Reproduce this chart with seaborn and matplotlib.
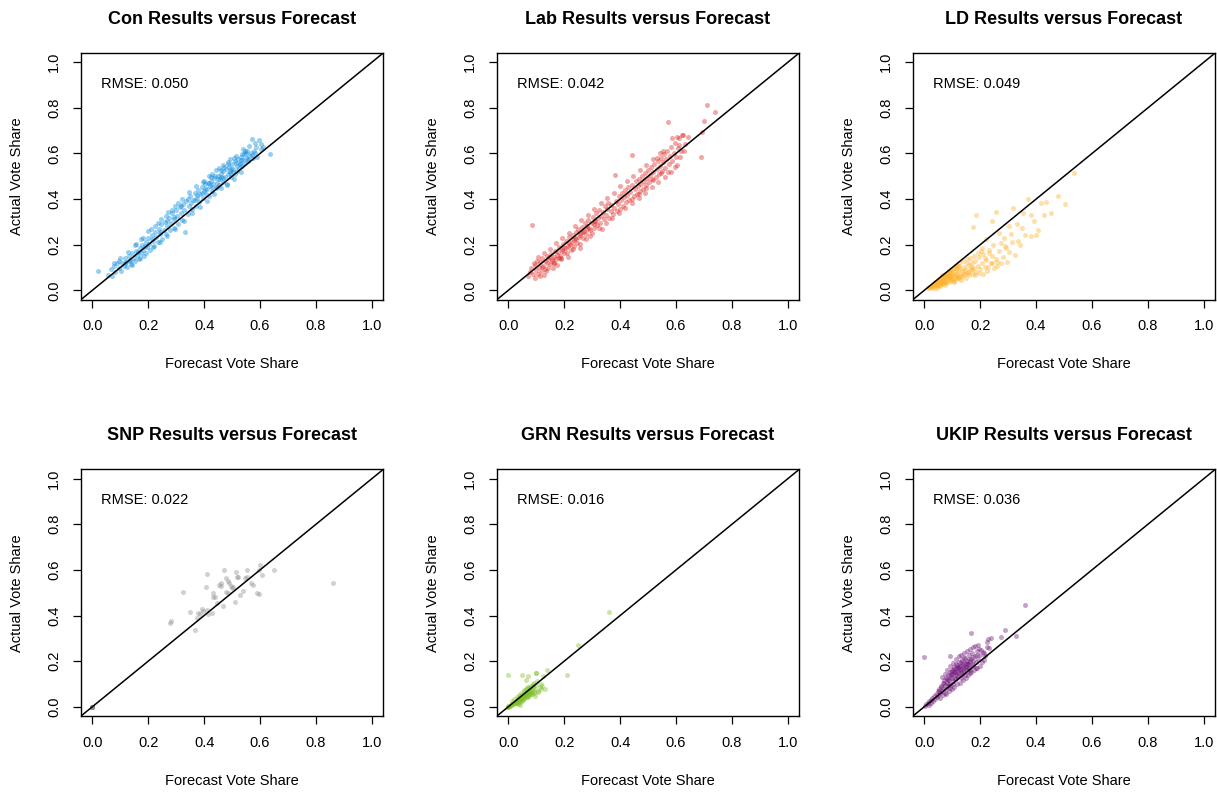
import matplotlib
matplotlib.use("Agg")
import matplotlib.pyplot as plt
import seaborn as sns

# Forecast vs actual vote share per constituency
con_forecast = [
    0.022, 0.058, 0.066, 0.072, 0.078, 0.083, 0.088, 0.094, 0.097, 0.103,
    0.106, 0.112, 0.117, 0.121, 0.126, 0.131, 0.134, 0.139, 0.143, 0.148,
    0.152, 0.157, 0.161, 0.166, 0.171, 0.174, 0.178, 0.183, 0.186, 0.191,
    0.195, 0.199, 0.204, 0.208, 0.212, 0.217, 0.221, 0.226, 0.229, 0.234,
    0.238, 0.243, 0.247, 0.251, 0.256, 0.261, 0.264, 0.269, 0.273, 0.278,
    0.282, 0.286, 0.291, 0.294, 0.299, 0.303, 0.308, 0.312, 0.316, 0.321,
    0.325, 0.329, 0.332, 0.337, 0.341, 0.346, 0.349, 0.353, 0.358, 0.362,
    0.366, 0.371, 0.374, 0.379, 0.383, 0.387, 0.391, 0.396, 0.399, 0.404,
    0.408, 0.412, 0.416, 0.421, 0.424, 0.429, 0.433, 0.437, 0.441, 0.445,
    0.449, 0.453, 0.457, 0.462, 0.466, 0.469, 0.474, 0.478, 0.482, 0.486,
    0.489, 0.493, 0.497, 0.501, 0.505, 0.509, 0.512, 0.516, 0.521, 0.524,
    0.528, 0.532, 0.536, 0.539, 0.543, 0.547, 0.551, 0.554, 0.558, 0.562,
    0.566, 0.571, 0.575, 0.579, 0.584, 0.589, 0.595, 0.603, 0.612, 0.636,
    0.118, 0.136, 0.163, 0.188, 0.214, 0.241, 0.267, 0.293, 0.318, 0.343,
    0.368, 0.392, 0.415, 0.438, 0.461, 0.484, 0.507, 0.529, 0.548, 0.571,
    0.376, 0.402, 0.427, 0.451, 0.472, 0.495, 0.518, 0.537, 0.556, 0.582,
    0.423, 0.447, 0.467, 0.491, 0.513, 0.533, 0.419, 0.459, 0.503, 0.545,
    0.152, 0.176, 0.198, 0.223, 0.246, 0.272, 0.297, 0.322, 0.345, 0.371,
    0.395, 0.418, 0.443, 0.468, 0.492, 0.515, 0.538, 0.561, 0.583, 0.604,
    0.143, 0.169, 0.194, 0.219, 0.244, 0.269, 0.296, 0.327, 0.355, 0.384,
    0.411, 0.436, 0.459, 0.483, 0.506, 0.531, 0.487, 0.455, 0.427, 0.398,
    0.305, 0.284, 0.262, 0.236, 0.209, 0.183, 0.158, 0.128, 0.101, 0.079,
]
con_actual = [
    0.083, 0.068, 0.092, 0.061, 0.107, 0.082, 0.118, 0.098, 0.131, 0.087,
    0.121, 0.108, 0.143, 0.126, 0.101, 0.152, 0.133, 0.117, 0.164, 0.141,
    0.128, 0.172, 0.153, 0.139, 0.186, 0.162, 0.201, 0.177, 0.149, 0.213,
    0.189, 0.231, 0.205, 0.176, 0.242, 0.218, 0.196, 0.257, 0.232, 0.211,
    0.271, 0.246, 0.289, 0.227, 0.263, 0.301, 0.248, 0.282, 0.318, 0.266,
    0.296, 0.338, 0.275, 0.312, 0.352, 0.327, 0.291, 0.364, 0.341, 0.309,
    0.378, 0.352, 0.258, 0.391, 0.334, 0.369, 0.412, 0.383, 0.356, 0.397,
    0.428, 0.372, 0.406, 0.441, 0.389, 0.421, 0.452, 0.403, 0.437, 0.468,
    0.424, 0.446, 0.412, 0.459, 0.481, 0.437, 0.466, 0.491, 0.448, 0.472,
    0.503, 0.462, 0.487, 0.511, 0.476, 0.523, 0.495, 0.531, 0.468, 0.509,
    0.541, 0.522, 0.497, 0.553, 0.531, 0.566, 0.512, 0.547, 0.574, 0.536,
    0.558, 0.583, 0.544, 0.571, 0.596, 0.559, 0.582, 0.611, 0.568, 0.591,
    0.603, 0.662, 0.578, 0.612, 0.627, 0.585, 0.661, 0.621, 0.628, 0.599,
    0.118, 0.129, 0.168, 0.196, 0.227, 0.258, 0.305, 0.321, 0.372, 0.401,
    0.395, 0.428, 0.471, 0.503, 0.498, 0.553, 0.578, 0.552, 0.604, 0.594,
    0.417, 0.443, 0.452, 0.488, 0.539, 0.531, 0.522, 0.598, 0.577, 0.604,
    0.496, 0.455, 0.493, 0.515, 0.559, 0.571, 0.472, 0.528, 0.519, 0.613,
    0.198, 0.224, 0.262, 0.281, 0.312, 0.343, 0.372, 0.401, 0.432, 0.458,
    0.474, 0.502, 0.526, 0.548, 0.574, 0.591, 0.621, 0.634, 0.648, 0.641,
    0.112, 0.141, 0.163, 0.192, 0.214, 0.239, 0.268, 0.302, 0.339, 0.365,
    0.393, 0.421, 0.449, 0.462, 0.486, 0.521, 0.564, 0.537, 0.509, 0.481,
    0.381, 0.352, 0.324, 0.296, 0.268, 0.231, 0.203, 0.168, 0.142, 0.121,
]

lab_forecast = [
    0.072, 0.081, 0.086, 0.089, 0.094, 0.097, 0.101, 0.104, 0.108, 0.111,
    0.115, 0.118, 0.122, 0.126, 0.129, 0.133, 0.137, 0.141, 0.144, 0.148,
    0.152, 0.156, 0.159, 0.163, 0.167, 0.171, 0.175, 0.178, 0.182, 0.186,
    0.189, 0.193, 0.197, 0.201, 0.205, 0.208, 0.212, 0.216, 0.219, 0.223,
    0.227, 0.231, 0.234, 0.238, 0.242, 0.246, 0.249, 0.253, 0.257, 0.261,
    0.264, 0.268, 0.272, 0.276, 0.279, 0.283, 0.287, 0.291, 0.294, 0.298,
    0.302, 0.306, 0.309, 0.313, 0.317, 0.321, 0.324, 0.328, 0.332, 0.336,
    0.339, 0.343, 0.347, 0.351, 0.354, 0.358, 0.362, 0.366, 0.369, 0.373,
    0.377, 0.381, 0.384, 0.388, 0.392, 0.396, 0.399, 0.403, 0.407, 0.411,
    0.414, 0.418, 0.422, 0.426, 0.429, 0.433, 0.437, 0.441, 0.444, 0.448,
    0.452, 0.456, 0.459, 0.463, 0.467, 0.471, 0.474, 0.478, 0.482, 0.486,
    0.489, 0.493, 0.497, 0.501, 0.504, 0.508, 0.512, 0.516, 0.519, 0.523,
    0.527, 0.531, 0.534, 0.538, 0.542, 0.546, 0.549, 0.553, 0.557, 0.561,
    0.564, 0.568, 0.572, 0.575, 0.579, 0.583, 0.587, 0.591, 0.596, 0.601,
    0.606, 0.611, 0.617, 0.623, 0.631, 0.642, 0.688, 0.694, 0.701, 0.712,
    0.739, 0.586, 0.603, 0.612, 0.625, 0.547, 0.513, 0.493, 0.468, 0.441,
    0.121, 0.139, 0.157, 0.174, 0.191, 0.214, 0.236, 0.258, 0.281, 0.305,
    0.131, 0.146, 0.165, 0.181, 0.199, 0.221, 0.244, 0.266, 0.289, 0.311,
    0.108, 0.127, 0.149, 0.172, 0.194, 0.217, 0.239, 0.262, 0.285, 0.308,
    0.331, 0.354, 0.377, 0.401, 0.424, 0.447, 0.471, 0.494, 0.518, 0.541,
    0.164, 0.187, 0.209, 0.232, 0.255, 0.277, 0.301, 0.326, 0.348, 0.372,
    0.395, 0.419, 0.443, 0.466, 0.489, 0.513, 0.536, 0.559, 0.582, 0.605,
    0.079, 0.093, 0.112, 0.134, 0.615, 0.628, 0.596, 0.571, 0.552, 0.531,
]
lab_actual = [
    0.062, 0.098, 0.286, 0.074, 0.112, 0.053, 0.089, 0.131, 0.071, 0.104,
    0.123, 0.086, 0.141, 0.109, 0.068, 0.127, 0.152, 0.098, 0.138, 0.117,
    0.161, 0.129, 0.096, 0.148, 0.174, 0.137, 0.112, 0.169, 0.191, 0.152,
    0.136, 0.182, 0.203, 0.164, 0.218, 0.188, 0.147, 0.206, 0.232, 0.179,
    0.211, 0.243, 0.196, 0.228, 0.257, 0.209, 0.271, 0.236, 0.188, 0.252,
    0.278, 0.231, 0.262, 0.294, 0.246, 0.281, 0.309, 0.263, 0.238, 0.297,
    0.322, 0.274, 0.306, 0.339, 0.288, 0.318, 0.351, 0.296, 0.327, 0.267,
    0.342, 0.311, 0.368, 0.329, 0.356, 0.383, 0.318, 0.349, 0.376, 0.334,
    0.362, 0.507, 0.393, 0.348, 0.379, 0.412, 0.356, 0.398, 0.427, 0.371,
    0.409, 0.438, 0.386, 0.419, 0.452, 0.397, 0.431, 0.592, 0.462, 0.414,
    0.443, 0.478, 0.421, 0.456, 0.489, 0.437, 0.468, 0.502, 0.446, 0.481,
    0.513, 0.461, 0.492, 0.527, 0.474, 0.506, 0.541, 0.483, 0.518, 0.553,
    0.497, 0.532, 0.566, 0.511, 0.547, 0.579, 0.524, 0.561, 0.596, 0.538,
    0.574, 0.612, 0.738, 0.553, 0.589, 0.629, 0.567, 0.604, 0.648, 0.586,
    0.624, 0.667, 0.609, 0.683, 0.641, 0.672, 0.585, 0.692, 0.741, 0.813,
    0.781, 0.668, 0.672, 0.635, 0.682, 0.513, 0.487, 0.449, 0.421, 0.399,
    0.102, 0.119, 0.138, 0.157, 0.171, 0.194, 0.219, 0.243, 0.268, 0.291,
    0.092, 0.146, 0.121, 0.143, 0.186, 0.197, 0.226, 0.254, 0.275, 0.303,
    0.148, 0.162, 0.182, 0.208, 0.231, 0.253, 0.281, 0.307, 0.331, 0.356,
    0.381, 0.403, 0.429, 0.456, 0.478, 0.503, 0.529, 0.551, 0.577, 0.603,
    0.119, 0.141, 0.162, 0.181, 0.203, 0.226, 0.251, 0.272, 0.296, 0.318,
    0.339, 0.362, 0.382, 0.406, 0.427, 0.451, 0.476, 0.498, 0.521, 0.548,
    0.081, 0.118, 0.062, 0.084, 0.583, 0.611, 0.541, 0.521, 0.612, 0.581,
]

ld_forecast = [
    0.012, 0.018, 0.022, 0.026, 0.029, 0.033, 0.036, 0.039, 0.042, 0.045,
    0.048, 0.051, 0.054, 0.057, 0.059, 0.062, 0.065, 0.068, 0.071, 0.073,
    0.076, 0.079, 0.082, 0.085, 0.087, 0.091, 0.094, 0.097, 0.099, 0.103,
    0.106, 0.109, 0.112, 0.115, 0.118, 0.121, 0.124, 0.127, 0.131, 0.134,
    0.137, 0.141, 0.144, 0.148, 0.151, 0.155, 0.159, 0.162, 0.166, 0.171,
    0.174, 0.178, 0.183, 0.187, 0.191, 0.196, 0.201, 0.205, 0.211, 0.216,
    0.221, 0.226, 0.232, 0.238, 0.244, 0.251, 0.258, 0.266, 0.273, 0.281,
    0.289, 0.297, 0.305, 0.314, 0.323, 0.187, 0.173, 0.221, 0.241, 0.256,
    0.268, 0.285, 0.302, 0.318, 0.331, 0.348, 0.352, 0.362, 0.371, 0.381,
    0.392, 0.399, 0.416, 0.428, 0.437, 0.455, 0.478, 0.505, 0.537, 0.381,
    0.336, 0.311, 0.294, 0.276, 0.246, 0.231, 0.208, 0.262, 0.342, 0.408,
    0.031, 0.044, 0.053, 0.061, 0.069, 0.077, 0.084, 0.092, 0.101, 0.114,
    0.037, 0.049, 0.058, 0.066, 0.074, 0.081, 0.089, 0.096, 0.108, 0.119,
    0.064, 0.072, 0.086, 0.095, 0.104, 0.117, 0.129, 0.142, 0.153, 0.168,
    0.052, 0.063, 0.075, 0.088, 0.101, 0.113, 0.126, 0.139, 0.152, 0.165,
    0.178, 0.192, 0.204, 0.218, 0.183, 0.196, 0.212, 0.228, 0.243, 0.259,
    0.025, 0.034, 0.041, 0.047, 0.056, 0.067, 0.079, 0.091, 0.105, 0.121,
    0.133, 0.146, 0.158, 0.171, 0.126, 0.114, 0.098, 0.083, 0.071, 0.059,
]
ld_actual = [
    0.011, 0.016, 0.009, 0.021, 0.014, 0.027, 0.018, 0.031, 0.022, 0.012,
    0.036, 0.025, 0.041, 0.019, 0.032, 0.047, 0.028, 0.038, 0.054, 0.022,
    0.043, 0.031, 0.061, 0.048, 0.036, 0.057, 0.069, 0.042, 0.052, 0.074,
    0.038, 0.061, 0.083, 0.049, 0.067, 0.091, 0.056, 0.074, 0.044, 0.086,
    0.062, 0.101, 0.071, 0.053, 0.094, 0.078, 0.112, 0.066, 0.089, 0.121,
    0.074, 0.098, 0.131, 0.082, 0.108, 0.146, 0.093, 0.119, 0.161, 0.103,
    0.133, 0.087, 0.178, 0.121, 0.152, 0.096, 0.139, 0.171, 0.118, 0.147,
    0.193, 0.126, 0.168, 0.211, 0.154, 0.331, 0.277, 0.225, 0.306, 0.345,
    0.251, 0.228, 0.281, 0.361, 0.292, 0.272, 0.338, 0.243, 0.401, 0.331,
    0.302, 0.241, 0.381, 0.331, 0.388, 0.341, 0.415, 0.378, 0.514, 0.239,
    0.216, 0.248, 0.185, 0.208, 0.198, 0.162, 0.184, 0.109, 0.197, 0.263,
    0.024, 0.029, 0.031, 0.037, 0.045, 0.052, 0.058, 0.064, 0.061, 0.072,
    0.035, 0.045, 0.051, 0.056, 0.063, 0.071, 0.081, 0.088, 0.097, 0.108,
    0.066, 0.035, 0.075, 0.079, 0.052, 0.058, 0.097, 0.084, 0.118, 0.103,
    0.052, 0.061, 0.073, 0.085, 0.094, 0.107, 0.119, 0.128, 0.138, 0.142,
    0.151, 0.162, 0.171, 0.141, 0.066, 0.078, 0.072, 0.102, 0.118, 0.126,
    0.019, 0.012, 0.026, 0.018, 0.023, 0.031, 0.039, 0.048, 0.041, 0.053,
    0.063, 0.072, 0.081, 0.092, 0.108, 0.096, 0.078, 0.068, 0.057, 0.042,
]

snp_forecast = [
    0.0, 0.0, 0.0, 0.0, 0.0, 0.0, 0.0, 0.0,
    0.277, 0.283, 0.324, 0.349, 0.367, 0.373, 0.379, 0.385, 0.391, 0.397,
    0.409, 0.415, 0.427, 0.406, 0.412, 0.432, 0.438, 0.430, 0.447, 0.454,
    0.462, 0.459, 0.468, 0.472, 0.477, 0.484, 0.490, 0.495, 0.480, 0.487,
    0.498, 0.504, 0.510, 0.514, 0.516, 0.520, 0.528, 0.538, 0.546, 0.552,
    0.554, 0.568, 0.576, 0.588, 0.596, 0.597, 0.600, 0.606, 0.651, 0.860,
]
snp_actual = [
    0.0, 0.0, 0.0, 0.0, 0.0, 0.0, 0.0, 0.0,
    0.367, 0.377, 0.504, 0.415, 0.338, 0.389, 0.410, 0.408, 0.428, 0.418,
    0.425, 0.408, 0.410, 0.527, 0.582, 0.498, 0.483, 0.480, 0.454, 0.534,
    0.544, 0.530, 0.444, 0.600, 0.563, 0.553, 0.541, 0.530, 0.505, 0.498,
    0.520, 0.524, 0.461, 0.592, 0.568, 0.568, 0.491, 0.508, 0.563, 0.571,
    0.600, 0.541, 0.534, 0.501, 0.493, 0.600, 0.622, 0.578, 0.600, 0.544,
]

grn_forecast = [
    0.000, 0.005, 0.009, 0.012, 0.015, 0.018, 0.021, 0.024, 0.027, 0.030,
    0.032, 0.035, 0.037, 0.040, 0.042, 0.044, 0.047, 0.049, 0.051, 0.054,
    0.056, 0.058, 0.061, 0.063, 0.066, 0.068, 0.071, 0.074, 0.077, 0.081,
    0.084, 0.088, 0.092, 0.096, 0.101, 0.106, 0.112, 0.119, 0.125, 0.131,
    0.137, 0.099, 0.101, 0.071, 0.048, 0.000, 0.211, 0.250, 0.361, 0.095,
    0.042, 0.025, 0.038, 0.046, 0.052, 0.059, 0.064, 0.069, 0.078, 0.086,
    0.033, 0.043, 0.053, 0.061, 0.072, 0.083, 0.091, 0.104, 0.116, 0.062,
    0.028, 0.036, 0.045, 0.055, 0.065, 0.075, 0.057, 0.067, 0.079, 0.089,
    0.015, 0.022, 0.031, 0.039, 0.047, 0.055, 0.063, 0.071, 0.079, 0.087,
    0.034, 0.041, 0.051, 0.058, 0.066, 0.073, 0.081, 0.093, 0.108, 0.122,
    0.000, 0.000, 0.000, 0.004, 0.007,
]
grn_actual = [
    0.002, 0.004, 0.011, 0.006, 0.014, 0.019, 0.012, 0.022, 0.017, 0.027,
    0.031, 0.023, 0.038, 0.028, 0.045, 0.034, 0.041, 0.052, 0.029, 0.046,
    0.038, 0.057, 0.049, 0.064, 0.043, 0.055, 0.068, 0.051, 0.061, 0.074,
    0.057, 0.083, 0.066, 0.078, 0.094, 0.071, 0.086, 0.076, 0.134, 0.076,
    0.163, 0.148, 0.149, 0.134, 0.141, 0.141, 0.141, 0.269, 0.417, 0.046,
    0.006, 0.018, 0.024, 0.032, 0.037, 0.046, 0.052, 0.059, 0.069, 0.067,
    0.019, 0.039, 0.041, 0.056, 0.063, 0.092, 0.104, 0.112, 0.098, 0.118,
    0.021, 0.033, 0.047, 0.058, 0.061, 0.067, 0.073, 0.081, 0.088, 0.101,
    0.025, 0.033, 0.042, 0.051, 0.061, 0.071, 0.078, 0.086, 0.082, 0.093,
    0.011, 0.021, 0.026, 0.035, 0.041, 0.046, 0.055, 0.061, 0.064, 0.092,
    0.000, 0.000, 0.000, 0.003, 0.005,
]

ukip_forecast = [
    0.003, 0.008, 0.012, 0.016, 0.019, 0.023, 0.026, 0.029, 0.033, 0.036,
    0.039, 0.042, 0.045, 0.048, 0.051, 0.054, 0.057, 0.060, 0.063, 0.066,
    0.068, 0.071, 0.074, 0.077, 0.079, 0.082, 0.085, 0.088, 0.091, 0.093,
    0.096, 0.099, 0.102, 0.104, 0.107, 0.110, 0.113, 0.115, 0.118, 0.121,
    0.124, 0.126, 0.129, 0.132, 0.135, 0.138, 0.141, 0.144, 0.147, 0.150,
    0.153, 0.156, 0.159, 0.162, 0.165, 0.169, 0.172, 0.176, 0.180, 0.184,
    0.188, 0.192, 0.196, 0.201, 0.206, 0.211, 0.217, 0.225, 0.232, 0.240,
    0.228, 0.276, 0.290, 0.329, 0.361, 0.169, 0.092, 0.000, 0.213, 0.186,
    0.085, 0.095, 0.105, 0.115, 0.125, 0.135, 0.145, 0.155, 0.165, 0.175,
    0.090, 0.101, 0.111, 0.121, 0.131, 0.140, 0.150, 0.160, 0.170, 0.190,
    0.108, 0.119, 0.128, 0.137, 0.143, 0.152, 0.161, 0.174, 0.058, 0.066,
    0.076, 0.084, 0.094, 0.103, 0.112, 0.122, 0.133, 0.146, 0.154, 0.163,
    0.064, 0.074, 0.083, 0.093, 0.103, 0.113, 0.123, 0.133, 0.143, 0.153,
    0.163, 0.173, 0.183, 0.193, 0.203, 0.213, 0.223, 0.198, 0.178, 0.158,
    0.138, 0.118, 0.098, 0.078, 0.088, 0.108, 0.128, 0.148, 0.168, 0.188,
    0.052, 0.061, 0.071, 0.081, 0.091, 0.101, 0.111, 0.121, 0.131, 0.141,
]
ukip_actual = [
    0.004, 0.011, 0.018, 0.009, 0.024, 0.031, 0.016, 0.038, 0.027, 0.046,
    0.034, 0.057, 0.043, 0.068, 0.051, 0.079, 0.062, 0.091, 0.071, 0.104,
    0.083, 0.117, 0.094, 0.128, 0.077, 0.106, 0.139, 0.118, 0.151, 0.097,
    0.131, 0.163, 0.112, 0.144, 0.176, 0.124, 0.158, 0.189, 0.137, 0.169,
    0.196, 0.148, 0.181, 0.128, 0.204, 0.163, 0.192, 0.152, 0.213, 0.176,
    0.201, 0.168, 0.226, 0.187, 0.148, 0.211, 0.236, 0.179, 0.221, 0.197,
    0.243, 0.211, 0.253, 0.228, 0.196, 0.241, 0.224, 0.282, 0.258, 0.301,
    0.297, 0.306, 0.338, 0.311, 0.445, 0.323, 0.221, 0.218, 0.206, 0.171,
    0.118, 0.146, 0.152, 0.171, 0.173, 0.186, 0.174, 0.189, 0.203, 0.219,
    0.102, 0.127, 0.139, 0.151, 0.161, 0.178, 0.193, 0.211, 0.187, 0.226,
    0.166, 0.184, 0.164, 0.141, 0.169, 0.158, 0.172, 0.201, 0.038, 0.054,
    0.061, 0.092, 0.081, 0.098, 0.121, 0.136, 0.152, 0.139, 0.188, 0.161,
    0.131, 0.143, 0.161, 0.181, 0.192, 0.208, 0.221, 0.229, 0.238, 0.246,
    0.252, 0.261, 0.266, 0.271, 0.251, 0.236, 0.263, 0.181, 0.163, 0.141,
    0.118, 0.098, 0.076, 0.058, 0.068, 0.086, 0.104, 0.128, 0.152, 0.168,
    0.071, 0.088, 0.105, 0.121, 0.139, 0.158, 0.151, 0.176, 0.196, 0.216,
]

party_names = ["Con", "Lab", "LD", "SNP", "GRN", "UKIP"]
party_colors = ["#0087DC", "#DC241F", "#FDB12A", "#8C8C8C", "#7DBF2A", "#70147A"]
rmse_values = ["0.050", "0.042", "0.049", "0.022", "0.016", "0.036"]
forecasts = [con_forecast, lab_forecast, ld_forecast, snp_forecast, grn_forecast, ukip_forecast]
actuals = [con_actual, lab_actual, ld_actual, snp_actual, grn_actual, ukip_actual]
ticks = [0.0, 0.2, 0.4, 0.6, 0.8, 1.0]
tick_labels = ["0.0", "0.2", "0.4", "0.6", "0.8", "1.0"]

sns.set_style("ticks")
plt.rcParams["font.family"] = ["Liberation Sans", "DejaVu Sans"]
plt.rcParams["text.color"] = "black"
plt.rcParams["axes.labelcolor"] = "black"

fig = plt.figure(figsize=(12.17, 7.92), dpi=100)

# panel boxes in figure fractions (3 columns x 2 rows)
col_left = [0.0666, 0.4084, 0.7502]
row_bottom = [0.6218, 0.0960]
box_w, box_h = 0.2482, 0.3112

for i, name in enumerate(party_names):
    r, c = divmod(i, 3)
    ax = fig.add_axes([col_left[c], row_bottom[r], box_w, box_h])
    sns.scatterplot(x=forecasts[i], y=actuals[i], ax=ax, color=party_colors[i],
                    alpha=0.4, s=13, linewidth=0, legend=False)
    ax.axline((0, 0), (1, 1), color="black", lw=1.1)
    ax.set_xlim(-0.04, 1.04)
    ax.set_ylim(-0.04, 1.04)
    ax.set_xticks(ticks)
    ax.set_xticklabels(tick_labels)
    ax.set_yticks(ticks)
    ax.set_yticklabels(tick_labels, rotation=90, va="center")
    ax.tick_params(direction="out", length=5.8, width=0.9, labelsize=10.5,
                   pad=8.5, colors="black")
    for sp in ax.spines.values():
        sp.set_color("black")
        sp.set_linewidth(1.0)
    ax.set_title(f"{name} Results versus Forecast", fontsize=13,
                 fontweight="bold", pad=21, color="black")
    ax.set_xlabel("Forecast Vote Share", fontsize=10.5)
    ax.set_ylabel("Actual Vote Share", fontsize=10.5)
    ax.xaxis.set_label_coords(0.5, -0.235)
    ax.yaxis.set_label_coords(-0.19, 0.5)
    ax.text(0.031, 0.905, f"RMSE: {rmse_values[i]}", fontsize=10.5,
            ha="left", va="center")

fig.savefig("out.png", dpi=100)
